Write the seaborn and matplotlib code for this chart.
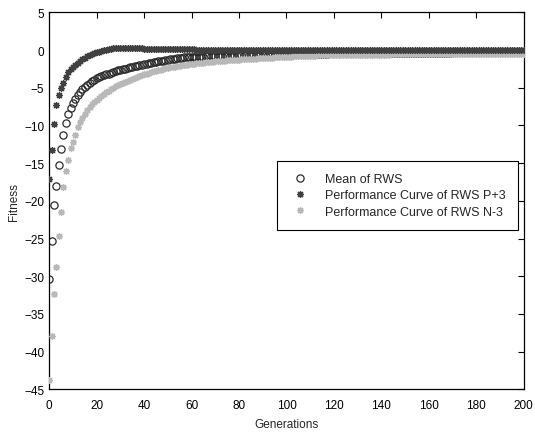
import numpy as np
import pandas as pd
import matplotlib
matplotlib.use("Agg")
import matplotlib.pyplot as plt
import seaborn as sns

generations = list(range(0, 201))

mean_rws = [
    -30.4, -25.3, -20.6, -18.0, -15.2, -13.1, -11.2, -9.7, -8.5, -7.7,
    -7.0, -6.5, -6.0, -5.6, -5.2, -4.9, -4.6, -4.35, -4.15, -3.95,
    -3.75, -3.6, -3.45, -3.3, -3.2, -3.1, -3.0, -2.9, -2.8, -2.7,
    -2.6, -2.52, -2.44, -2.36, -2.28, -2.2, -2.13, -2.06, -2.0, -1.93,
    -1.87, -1.8, -1.74, -1.68, -1.62, -1.56, -1.5, -1.44, -1.38, -1.32,
    -1.27, -1.22, -1.17, -1.12, -1.07, -1.03, -1.0, -0.97, -0.95, -0.93,
    -0.91, -0.89, -0.88, -0.87, -0.86, -0.85, -0.84, -0.83, -0.82, -0.81,
    -0.8, -0.79, -0.78, -0.77, -0.76, -0.75, -0.74, -0.73, -0.72, -0.71,
    -0.7, -0.69, -0.68, -0.67, -0.66, -0.65, -0.64, -0.63, -0.62, -0.61,
    -0.6, -0.59, -0.58, -0.57, -0.56, -0.55, -0.54, -0.53, -0.52, -0.51,
    -0.5, -0.5, -0.5, -0.49, -0.49, -0.49, -0.48, -0.48, -0.48, -0.47,
    -0.47, -0.47, -0.46, -0.46, -0.46, -0.45, -0.45, -0.45, -0.44, -0.44,
    -0.44, -0.43, -0.43, -0.43, -0.42, -0.42, -0.42, -0.41, -0.41, -0.41,
    -0.4, -0.4, -0.4, -0.4, -0.39, -0.39, -0.39, -0.39, -0.38, -0.38,
    -0.38, -0.38, -0.37, -0.37, -0.37, -0.37, -0.36, -0.36, -0.36, -0.36,
    -0.35, -0.35, -0.35, -0.35, -0.35, -0.34, -0.34, -0.34, -0.34, -0.34,
    -0.33, -0.33, -0.33, -0.33, -0.33, -0.32, -0.32, -0.32, -0.32, -0.32,
    -0.31, -0.31, -0.31, -0.31, -0.31, -0.3, -0.3, -0.3, -0.3, -0.3,
    -0.29, -0.29, -0.29, -0.29, -0.29, -0.28, -0.28, -0.28, -0.28, -0.28,
    -0.27, -0.27, -0.27, -0.27, -0.27, -0.26, -0.26, -0.26, -0.26, -0.26,
    -0.25,
]

perf_p3 = [
    -17.1, -13.2, -9.8, -7.3, -6.0, -5.0, -4.3, -3.6, -2.9, -2.5,
    -2.2, -2.0, -1.7, -1.45, -1.2, -1.0, -0.82, -0.66, -0.52, -0.4,
    -0.28, -0.18, -0.09, 0.0, 0.07, 0.13, 0.18, 0.22, 0.25, 0.27,
    0.28, 0.28, 0.28, 0.27, 0.27, 0.26, 0.25, 0.24, 0.23, 0.22,
    0.21, 0.2, 0.19, 0.18, 0.17, 0.16, 0.15, 0.14, 0.13, 0.12,
    0.11, 0.11, 0.11, 0.1, 0.1, 0.1, 0.1, 0.09, 0.09, 0.09,
    0.09, 0.09, 0.08, 0.08, 0.08, 0.08, 0.08, 0.08, 0.07, 0.07,
    0.07, 0.07, 0.07, 0.07, 0.07, 0.06, 0.06, 0.06, 0.06, 0.06,
    0.06, 0.06, 0.06, 0.06, 0.05, 0.05, 0.05, 0.05, 0.05, 0.05,
    0.05, 0.05, 0.05, 0.05, 0.05, 0.05, 0.05, 0.05, 0.05, 0.05,
    0.05, 0.05, 0.05, 0.05, 0.05, 0.05, 0.05, 0.05, 0.05, 0.05,
    0.05, 0.05, 0.05, 0.05, 0.05, 0.04, 0.04, 0.04, 0.04, 0.04,
    0.04, 0.04, 0.04, 0.04, 0.04, 0.04, 0.04, 0.04, 0.04, 0.04,
    0.04, 0.04, 0.04, 0.04, 0.04, 0.04, 0.04, 0.04, 0.04, 0.04,
    0.04, 0.04, 0.04, 0.04, 0.04, 0.04, 0.04, 0.04, 0.04, 0.04,
    0.04, 0.04, 0.04, 0.04, 0.04, 0.04, 0.04, 0.04, 0.04, 0.04,
    0.03, 0.03, 0.03, 0.03, 0.03, 0.03, 0.03, 0.03, 0.03, 0.03,
    0.03, 0.03, 0.03, 0.03, 0.03, 0.03, 0.03, 0.03, 0.03, 0.03,
    0.03, 0.03, 0.03, 0.03, 0.03, 0.03, 0.03, 0.03, 0.03, 0.03,
    0.03, 0.03, 0.03, 0.03, 0.03, 0.03, 0.03, 0.03, 0.03, 0.03,
    0.03,
]

perf_n3 = [
    -43.8, -38.0, -32.3, -28.8, -24.7, -21.5, -18.2, -16.0, -14.6, -13.0,
    -12.2, -11.3, -10.2, -9.6, -9.0, -8.5, -8.0, -7.6, -7.2, -6.9,
    -6.6, -6.35, -6.1, -5.85, -5.6, -5.4, -5.2, -5.0, -4.8, -4.65,
    -4.5, -4.35, -4.2, -4.05, -3.9, -3.78, -3.66, -3.54, -3.42, -3.3,
    -3.2, -3.1, -3.0, -2.9, -2.82, -2.74, -2.66, -2.58, -2.5, -2.43,
    -2.36, -2.3, -2.24, -2.18, -2.12, -2.07, -2.02, -1.97, -1.92, -1.88,
    -1.84, -1.8, -1.76, -1.72, -1.68, -1.65, -1.62, -1.59, -1.56, -1.53,
    -1.5, -1.47, -1.44, -1.41, -1.38, -1.36, -1.34, -1.32, -1.3, -1.28,
    -1.26, -1.24, -1.22, -1.2, -1.18, -1.16, -1.14, -1.12, -1.1, -1.08,
    -1.06, -1.04, -1.02, -1.0, -0.98, -0.96, -0.94, -0.92, -0.9, -0.88,
    -0.87, -0.86, -0.85, -0.84, -0.83, -0.82, -0.81, -0.8, -0.79, -0.78,
    -0.77, -0.76, -0.75, -0.7, -0.7, -0.69, -0.69, -0.68, -0.68, -0.67,
    -0.67, -0.66, -0.66, -0.65, -0.65, -0.64, -0.64, -0.63, -0.63, -0.62,
    -0.62, -0.62, -0.61, -0.61, -0.61, -0.6, -0.6, -0.6, -0.59, -0.59,
    -0.59, -0.58, -0.58, -0.58, -0.57, -0.57, -0.57, -0.56, -0.56, -0.56,
    -0.55, -0.55, -0.55, -0.55, -0.54, -0.54, -0.54, -0.54, -0.53, -0.53,
    -0.53, -0.53, -0.52, -0.52, -0.52, -0.52, -0.51, -0.51, -0.51, -0.51,
    -0.5, -0.5, -0.5, -0.5, -0.5, -0.49, -0.49, -0.49, -0.49, -0.49,
    -0.48, -0.48, -0.48, -0.48, -0.48, -0.47, -0.47, -0.47, -0.47, -0.47,
    -0.46, -0.46, -0.46, -0.46, -0.46, -0.45, -0.45, -0.45, -0.45, -0.45,
    -0.45,
]

series_names = ["Mean of RWS", "Performance Curve of RWS P+3", "Performance Curve of RWS N-3"]
x_ticks = [0, 20, 40, 60, 80, 100, 120, 140, 160, 180, 200]
y_ticks = [5, 0, -5, -10, -15, -20, -25, -30, -35, -40, -45]

sns.set_style("white")
plt.rcParams["font.family"] = ["Liberation Sans", "DejaVu Sans"]

fig = plt.figure(figsize=(5.35, 4.35), dpi=100)
ax = fig.add_axes([0.092, 0.103, 0.887, 0.866])

star = (8, 2, 0)
df_mean = pd.DataFrame({"g": generations, "v": mean_rws})
df_p3 = pd.DataFrame({"g": generations, "v": perf_p3})
df_n3 = pd.DataFrame({"g": generations, "v": perf_n3})

sns.lineplot(data=df_mean, x="g", y="v", ax=ax, linestyle="", marker="o",
             markersize=5.2, markerfacecolor="none", markeredgecolor="#2a2a2a",
             markeredgewidth=0.9, label=series_names[0], zorder=2)
sns.lineplot(data=df_n3, x="g", y="v", ax=ax, linestyle="", marker=star,
             markersize=5, markeredgecolor="#b8b8b8", color="#b8b8b8",
             markeredgewidth=0.9, label=series_names[2], zorder=3)
sns.lineplot(data=df_p3, x="g", y="v", ax=ax, linestyle="", marker=star,
             markersize=5, markeredgecolor="#404040", color="#404040",
             markeredgewidth=0.9, label=series_names[1], zorder=4)

ax.set_xlim(0, 200)
ax.set_ylim(-45, 5)
ax.set_xticks(x_ticks)
ax.set_yticks(y_ticks)
ax.tick_params(direction="in", length=4, width=0.8, top=True, right=True,
               labelsize=8.5, colors="black")
ax.tick_params(axis="x", pad=7)
ax.tick_params(axis="y", pad=3.5)
for s in ax.spines.values():
    s.set_visible(True)
    s.set_color("black")
    s.set_linewidth(0.9)
ax.set_xlabel("Generations", fontsize=8.5, labelpad=5)
ax.set_ylabel("Fitness", fontsize=8.5, labelpad=3)

handles, labels = ax.get_legend_handles_labels()
order = [labels.index(n) for n in series_names]
leg = ax.legend([handles[i] for i in order], [labels[i] for i in order],
                loc="upper right", bbox_to_anchor=(0.988, 0.607),
                borderaxespad=0, fontsize=9, frameon=True, fancybox=False,
                edgecolor="black", framealpha=1, handlelength=1.7,
                handletextpad=1.15, borderpad=1.0, labelspacing=0.35)
leg.get_frame().set_linewidth(0.8)

fig.savefig("out.png", dpi=100, facecolor="white")
